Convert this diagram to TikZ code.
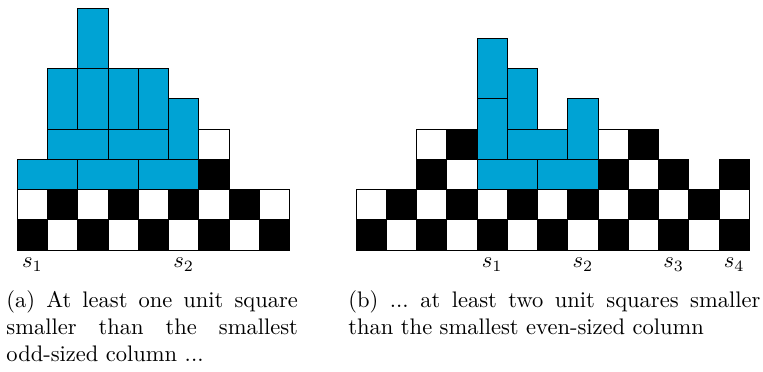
\documentclass[tikz,border=0pt]{standalone}
\definecolor{tileblue}{RGB}{0,163,212}

\begin{document}
\begin{tikzpicture}[
    x=13.44pt,y=13.44pt,
    dark/.style={draw=black,fill=black},
    light/.style={draw=black,fill=white},
    tile/.style={draw=black,fill=tileblue},
    lbl/.style={anchor=base,inner sep=0pt},
    capt/.style={anchor=base west,inner sep=0pt,align=justify,
      execute at begin node={\frenchspacing\hyphenpenalty=10000\exhyphenpenalty=10000}}
  ]
  \useasboundingbox (-0.572,-4.033) rectangle (24.651,8.264);

  % (a): checkered cells, column/height
  \foreach \c/\h in {0/2,1/2,2/2,3/2,4/2,5/2,6/4,7/2,8/2}
    \foreach \r in {1,...,\h} {
      \pgfmathtruncatemacro\odd{mod(\c+\r,2)}
      \ifnum\odd=1
        \path[dark] (\c,\r-1) rectangle ++(1,1);
      \else
        \path[light] (\c,\r-1) rectangle ++(1,1);
      \fi
    }
  % (a): dominoes x/y/w/h
  \foreach \x/\y/\w/\h in {0/2/2/1,2/2/2/1,4/2/2/1,1/3/2/1,3/3/2/1,5/3/1/2,
                           1/4/1/2,2/4/1/2,3/4/1/2,4/4/1/2,2/6/1/2}
    \path[tile] (\x,\y) rectangle ++(\w,\h);
  \node[lbl] (s1a) at (0.5,-0.595) {$s_1$};
  \node[lbl] (s2a) at (5.5,-0.595) {$s_2$};

  % (b)
  \begin{scope}[shift={(11.2,0)}]
    \foreach \c/\h in {0/2,1/2,2/4,3/4,4/2,5/2,6/2,7/2,8/4,9/4,10/3,11/2,12/3}
      \foreach \r in {1,...,\h} {
        \pgfmathtruncatemacro\odd{mod(\c+\r,2)}
        \ifnum\odd=1
          \path[dark] (\c,\r-1) rectangle ++(1,1);
        \else
          \path[light] (\c,\r-1) rectangle ++(1,1);
        \fi
      }
    \foreach \x/\y/\w/\h in {4/2/2/1,6/2/2/1,5/3/2/1,4/3/1/2,4/5/1/2,5/4/1/2,7/3/1/2}
      \path[tile] (\x,\y) rectangle ++(\w,\h);
    \node[lbl] (s1b) at (4.5,-0.595) {$s_1$};
    \node[lbl] (s2b) at (7.5,-0.595) {$s_2$};
    \node[lbl] (s3b) at (10.5,-0.595) {$s_3$};
    \node[lbl] (s4b) at (12.5,-0.595) {$s_4$};
  \end{scope}

  % captions
  \node[capt,text width=129.5pt] (capa) at (-0.374,-1.917)
    {(a) At least one unit square smaller than the smallest odd-sized column ...};
  \node[capt,text width=183pt] (capb) at (10.932,-1.917)
    {(b) ... at least two unit squares smaller than the smallest even-sized column};
\end{tikzpicture}
\end{document}
